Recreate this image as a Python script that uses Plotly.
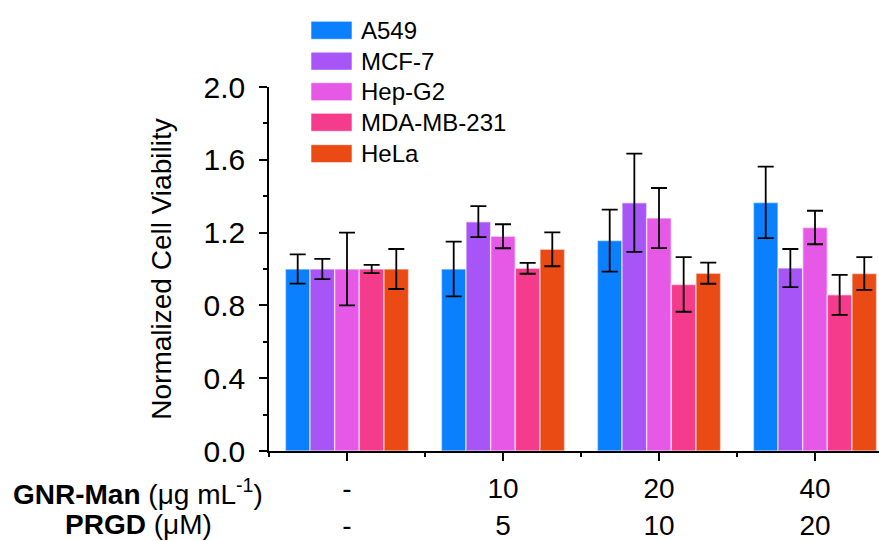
import plotly.graph_objects as go

W, H = 879, 541
ML, MR, MT, MB = 269, 0, 87, 88
PW, PH = W - ML - MR, H - MT - MB

# ---- data ----
series = ["A549", "MCF-7", "Hep-G2", "MDA-MB-231", "HeLa"]
colors = ["#0A80FF", "#A855F7", "#E658E6", "#F53C8C", "#EA4A14"]
gnr_labels = ["-", "10", "20", "40"]
prgd_labels = ["-", "5", "10", "20"]
groups = [0, 1, 2, 3]

a549 = [1.00, 1.00, 1.156, 1.366]
a549_err = [0.08, 0.15, 0.17, 0.196]
mcf7 = [1.00, 1.26, 1.364, 1.005]
mcf7_err = [0.056, 0.085, 0.27, 0.105]
hepg2 = [1.00, 1.18, 1.28, 1.228]
hepg2_err = [0.20, 0.066, 0.165, 0.092]
mda = [1.00, 1.004, 0.915, 0.858]
mda_err = [0.023, 0.03, 0.15, 0.11]
hela = [1.00, 1.108, 0.977, 0.975]
hela_err = [0.11, 0.093, 0.058, 0.09]

values = [a549, mcf7, hepg2, mda, hela]
errors = [a549_err, mcf7_err, hepg2_err, mda_err, hela_err]

FONT = "Liberation Sans, Arial, sans-serif"

fig = go.Figure()
for name, col, v, e in zip(series, colors, values, errors):
    fig.add_trace(go.Bar(
        x=groups, y=v, name=name,
        marker=dict(color=col, line=dict(color="rgba(255,255,255,0.55)", width=1.5)),
        error_y=dict(type="data", array=e, visible=True, color="#000000",
                     thickness=1.8, width=8),
        showlegend=False,
    ))

def px2paper_x(px):
    return (px - ML) / PW

def px2paper_y(py):
    return (H - MB - py) / PH

shapes = []
annotations = []
# custom legend
leg_y = [30, 61, 91.7, 122.5, 154]
for name, col, cy in zip(series, colors, leg_y):
    shapes.append(dict(type="rect", xref="paper", yref="paper",
                       x0=px2paper_x(311), x1=px2paper_x(352),
                       y0=px2paper_y(cy + 9), y1=px2paper_y(cy - 9),
                       fillcolor=col, line=dict(color="rgba(255,255,255,0.55)", width=1)))
    annotations.append(dict(text=name, xref="paper", yref="paper",
                            x=px2paper_x(359), y=px2paper_y(cy),
                            xanchor="left", yanchor="middle", showarrow=False,
                            font=dict(family=FONT, size=24, color="#000")))

# row labels
annotations.append(dict(text="<b>GNR-Man</b> (μg mL<sup>-1</sup>)", xref="paper", yref="paper",
                        x=px2paper_x(138), y=px2paper_y(494), xanchor="center", yanchor="middle",
                        showarrow=False, font=dict(family=FONT, size=28, color="#000")))
annotations.append(dict(text="<b>PRGD</b> (μM)", xref="paper", yref="paper",
                        x=px2paper_x(138), y=px2paper_y(527), xanchor="center", yanchor="middle",
                        showarrow=False, font=dict(family=FONT, size=28, color="#000")))

ticktext = [f"{g}<br>{p}" for g, p in zip(gnr_labels, prgd_labels)]

fig.update_layout(
    width=W, height=H,
    margin=dict(l=ML, r=MR, t=MT, b=MB, pad=0),
    paper_bgcolor="white", plot_bgcolor="white",
    barmode="group", bargap=0.21, bargroupgap=0.0,
    shapes=shapes, annotations=annotations,
    font=dict(family=FONT, color="#000"),
    xaxis=dict(range=[-0.5, -0.5 + PW / 156.0], tickmode="array", tickvals=groups,
               ticktext=ticktext, ticks="outside", ticklen=8, tickwidth=1.5, tickcolor="#000",
               showline=True, linecolor="#000", linewidth=1.5, showgrid=False, zeroline=False,
               tickfont=dict(family=FONT, size=28, color="#000"), ticklabelstandoff=4,
               minor=dict(tickmode="array", tickvals=[-0.5, 0.5, 1.5, 2.5], ticks="outside",
                          ticklen=4, tickwidth=1.5, tickcolor="#000")),
    yaxis=dict(range=[0, 2.0], tickmode="linear", tick0=0, dtick=0.4, tickformat=".1f",
               ticks="outside", ticklen=8, tickwidth=1.5, tickcolor="#000",
               showline=True, linecolor="#000", linewidth=1.5, showgrid=False, zeroline=False,
               tickfont=dict(family=FONT, size=30, color="#000"), ticklabelstandoff=8,
               minor=dict(dtick=0.2, tick0=0, ticks="outside", ticklen=4, tickwidth=1.5,
                          tickcolor="#000"),
               title=dict(text="Normalized Cell Viability", standoff=24,
                          font=dict(family=FONT, size=28, color="#000"))),
)

fig.write_html("out.html")
